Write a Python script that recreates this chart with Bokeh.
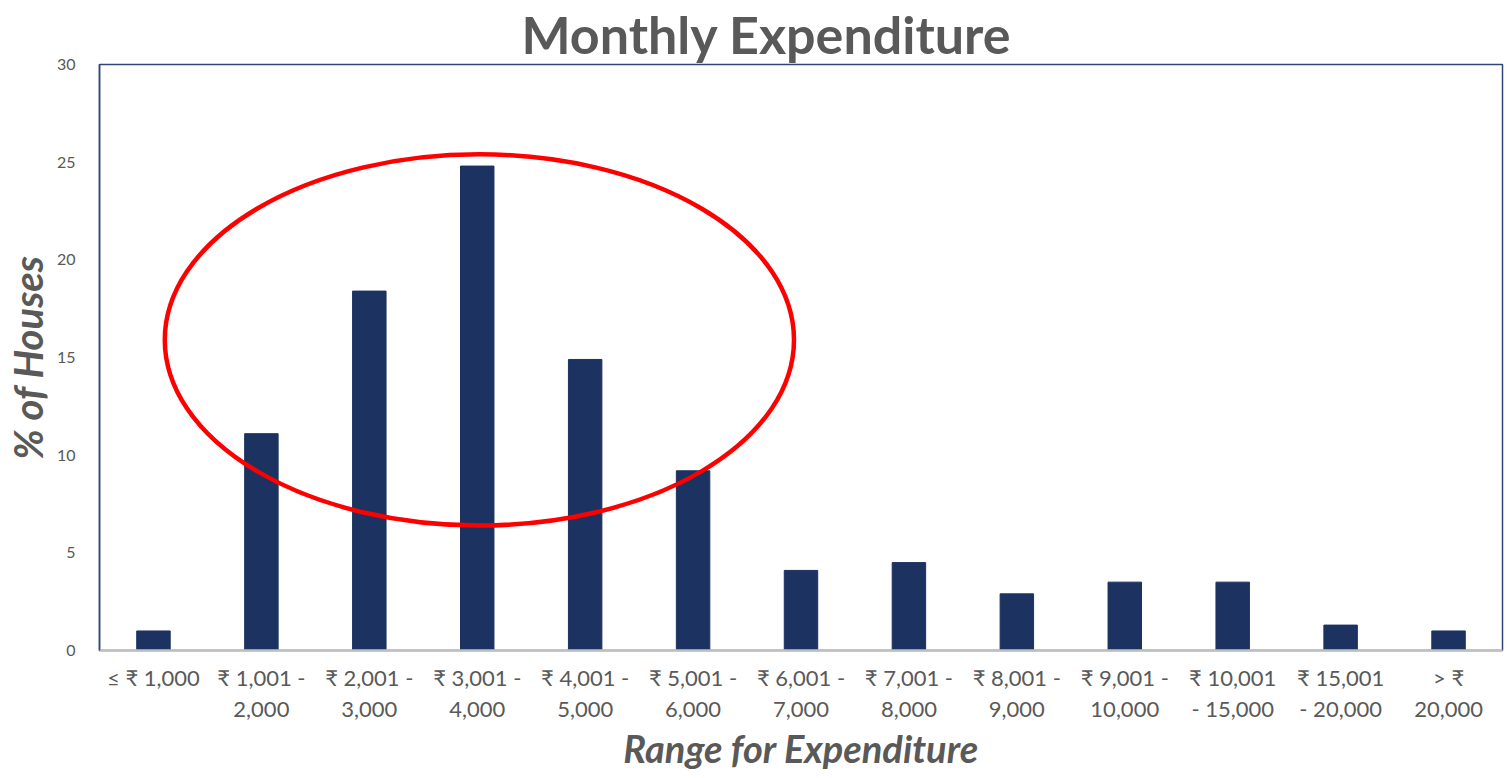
from bokeh.plotting import figure
from bokeh.models import FactorRange, Range1d, Span, FixedTicker, ColumnDataSource
from bokeh.embed import file_html
from bokeh.resources import INLINE

# ---- data ----
categories = [
    "≤ ₹ 1,000",
    "₹ 1,001 -\n2,000",
    "₹ 2,001 -\n3,000",
    "₹ 3,001 -\n4,000",
    "₹ 4,001 -\n5,000",
    "₹ 5,001 -\n6,000",
    "₹ 6,001 -\n7,000",
    "₹ 7,001 -\n8,000",
    "₹ 8,001 -\n9,000",
    "₹ 9,001 -\n10,000",
    "₹ 10,001\n- 15,000",
    "₹ 15,001\n- 20,000",
    "> ₹\n20,000",
]
percent_houses = [1.0, 11.1, 18.4, 24.8, 14.9, 9.2, 4.1, 4.5, 2.9, 3.5, 3.5, 1.3, 1.0]
y_ticks = [0, 5, 10, 15, 20, 25, 30]

# highlight ellipse (category units, percent units)
highlight_x = [3.52]
highlight_y = [15.9]
highlight_w = [5.83]
highlight_h = [19.0]

TEXT = "#595959"
BAR = "#1c3260"
NAVY = "#2f4577"
FONT = "Lato"

p = figure(
    x_range=FactorRange(factors=categories),
    y_range=Range1d(0, 30),
    frame_width=1403, frame_height=586,
    min_border_left=89, min_border_right=2,
    min_border_top=20, min_border_bottom=20,
    output_backend="svg", toolbar_location=None,
    title="Monthly Expenditure",
)

src = ColumnDataSource(dict(cat=categories, val=percent_houses))
p.vbar(x="cat", top="val", width=0.31, source=src, fill_color=BAR, line_color=BAR)

p.ellipse(x=highlight_x, y=highlight_y, width=highlight_w, height=highlight_h,
          fill_color=None, line_color="#ff0000", line_width=4.5)

p.add_layout(Span(location=0, dimension="width", line_color="#bfbfbf", line_width=2, level="overlay"))

# title
p.title.text_font = FONT
p.title.text_font_size = "52px"
p.title.text_font_style = "bold"
p.title.text_color = TEXT
p.title.align = "left"
p.title.offset = 422
p.title.standoff = 0

# frame
p.outline_line_color = NAVY
p.outline_line_width = 1.5
p.xgrid.grid_line_color = None
p.ygrid.grid_line_color = None
p.background_fill_color = "white"
p.border_fill_color = "white"

# y axis
p.yaxis.ticker = FixedTicker(ticks=y_ticks)
p.yaxis.axis_label = "% of Houses"
p.yaxis.axis_label_text_font = FONT
p.yaxis.axis_label_text_font_size = "40px"
p.yaxis.axis_label_text_font_style = "bold italic"
p.yaxis.axis_label_text_color = TEXT
p.yaxis.axis_label_standoff = 2
p.yaxis.major_label_text_font = FONT
p.yaxis.major_label_text_font_size = "16px"
p.yaxis.major_label_text_color = TEXT
p.yaxis.major_label_standoff = 18
p.yaxis.major_tick_line_color = None
p.yaxis.minor_tick_line_color = None
p.yaxis.axis_line_color = NAVY
p.yaxis.axis_line_width = 1.5

# x axis
p.xaxis.axis_label = "Range for Expenditure"
p.xaxis.axis_label_text_font = FONT
p.xaxis.axis_label_text_font_size = "38px"
p.xaxis.axis_label_text_font_style = "bold italic"
p.xaxis.axis_label_text_color = TEXT
p.xaxis.axis_label_standoff = 0
p.xaxis.axis_label_text_line_height = 1.0
p.xaxis.major_label_text_font = FONT
p.xaxis.major_label_text_font_size = "22px"
p.xaxis.major_label_text_line_height = 1.15
p.xaxis.major_label_text_color = TEXT
p.xaxis.major_label_standoff = 7
p.xaxis.major_tick_line_color = None
p.xaxis.axis_line_color = "#bfbfbf"
p.xaxis.axis_line_width = 2

open("out.html", "w").write(file_html(p, INLINE))
